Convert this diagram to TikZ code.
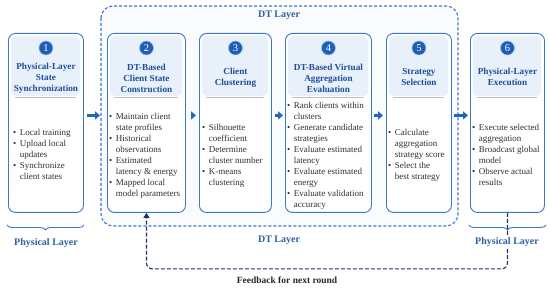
\documentclass[tikz,border=0pt]{standalone}
\usepackage{fontspec}
\setmainfont{Liberation Serif}
\usetikzlibrary{arrows.meta,decorations.pathreplacing}
\definecolor{dtblue}{HTML}{3A78C9}
\definecolor{titleblue}{HTML}{1F4E9A}
\definecolor{headfill}{HTML}{E8F0FA}
\definecolor{circfill}{HTML}{1F5EB8}
\definecolor{navy}{HTML}{1E3263}
\definecolor{arrowblue}{HTML}{1F66C1}
\definecolor{bodytxt}{HTML}{303030}
\newenvironment{bullets}{\begin{tabular}{@{}l@{\hspace{3.5pt}}l@{}}}{\end{tabular}}
\newcommand{\bitem}{\textbullet &}
\tikzset{
  stage/.style={draw=dtblue, line width=0.9pt, rounded corners=7pt, fill=white,
    anchor=north west, minimum height=179pt, inner sep=0pt},
  sepline/.style={draw=black!25, line width=1pt},
  numcirc/.style={circle, fill=circfill, draw=dtblue!50, line width=0.6pt,
    minimum size=14pt, inner sep=0pt, text=white, font=\fontsize{10.5}{10}\selectfont},
  title/.style={align=center, text=titleblue, font=\fontsize{9.2}{11}\selectfont\bfseries},
  items/.style={anchor=west, text=bodytxt, inner sep=0pt,
    font=\fontsize{9}{11}\selectfont},
  flow/.style={draw=arrowblue, line width=2.6pt, -{Triangle[length=5pt,width=8pt]}},
  layerlabel/.style={text=dtblue!80!black, font=\fontsize{10}{11}\selectfont\bfseries},
  feedback/.style={draw=navy, line width=1.1pt, dash pattern=on 4pt off 2pt,
    rounded corners=6pt, -{Triangle[length=5pt,width=6pt]}},
  layerbrace/.style={draw=dtblue, line width=0.9pt, decorate,
    decoration={brace, mirror, amplitude=5pt}}
}
\begin{document}
\begin{tikzpicture}[x=1pt, y=-1pt]
  \useasboundingbox (0,0) rectangle (550,288);
  % DT layer region
  \draw[dtblue, line width=1.1pt, dash pattern=on 3pt off 2pt, fill=dtblue!3,
    rounded corners=12pt] (101,6) rectangle (458,226);
  \node[layerlabel] (dttop) at (279,15) {DT Layer};
  \node[layerlabel] (dtbot) at (279,240) {DT Layer};
  % Stage boxes
  \node[stage, minimum width=75pt] (b1) at (8,33) {};
  \node[stage, minimum width=78pt] (b2) at (107,33) {};
  \node[stage, minimum width=72pt] (b3) at (199,33) {};
  \node[stage, minimum width=86pt] (b4) at (285,33) {};
  \node[stage, minimum width=65pt] (b5) at (386,33) {};
  \node[stage, minimum width=74pt] (b6) at (470,33) {};
  % Header backgrounds
  \fill[headfill, rounded corners=5pt] (11,36) rectangle (80,96);
  \fill[headfill, rounded corners=5pt] (110,36) rectangle (182,96);
  \fill[headfill, rounded corners=5pt] (202,36) rectangle (268,96);
  \fill[headfill, rounded corners=5pt] (288,36) rectangle (368,96);
  \fill[headfill, rounded corners=5pt] (389,36) rectangle (448,96);
  \fill[headfill, rounded corners=5pt] (473,36) rectangle (541,96);
  % Separator lines
  \draw[sepline] (15,98) -- (76,98);
  \draw[sepline] (114,98) -- (178,98);
  \draw[sepline] (206,98) -- (264,98);
  \draw[sepline] (292,98) -- (364,98);
  \draw[sepline] (393,98) -- (444,98);
  \draw[sepline] (477,98) -- (537,98);
  % Numbers
  \node[numcirc] (n1) at (b1.north |- 0,48) {1};
  \node[numcirc] (n2) at (b2.north |- 0,48) {2};
  \node[numcirc] (n3) at (b3.north |- 0,48) {3};
  \node[numcirc] (n4) at (b4.north |- 0,48) {4};
  \node[numcirc] (n5) at (b5.north |- 0,48) {5};
  \node[numcirc] (n6) at (b6.north |- 0,48) {6};
  % Titles
  \node[title] (t1) at (b1.north |- 0,78) {Physical-Layer\\State\\Synchronization};
  \node[title] (t2) at (b2.north |- 0,78) {DT-Based\\Client State\\Construction};
  \node[title] (t3) at (b3.north |- 0,78) {Client\\Clustering};
  \node[title] (t4) at (b4.north |- 0,78) {DT-Based Virtual\\Aggregation\\Evaluation};
  \node[title] (t5) at (b5.north |- 0,77) {Strategy\\Selection};
  \node[title] (t6) at (b6.north |- 0,77) {Physical-Layer\\Execution};
  % Bullet lists
  \node[items] (l1) at (13,155.5) {\begin{bullets}
    \bitem Local training\\
    \bitem Upload local\\ & updates\\
    \bitem Synchronize\\ & client states
  \end{bullets}};
  \node[items] (l2) at (109,155.5) {\begin{bullets}
    \bitem Maintain client\\ & state profiles\\
    \bitem Historical\\ & observations\\
    \bitem Estimated\\ & latency \& energy\\
    \bitem Mapped local\\ & model parameters
  \end{bullets}};
  \node[items] (l3) at (202,155.5) {\begin{bullets}
    \bitem Silhouette\\ & coefficient\\
    \bitem Determine\\ & cluster number\\
    \bitem K-means\\ & clustering
  \end{bullets}};
  \node[items] (l4) at (287,155.5) {\begin{bullets}
    \bitem Rank clients within\\ & clusters\\
    \bitem Generate candidate\\ & strategies\\
    \bitem Evaluate estimated\\ & latency\\
    \bitem Evaluate estimated\\ & energy\\
    \bitem Evaluate validation\\ & accuracy
  \end{bullets}};
  \node[items] (l5) at (388,155.5) {\begin{bullets}
    \bitem Calculate\\ & aggregation\\ & strategy score\\
    \bitem Select the\\ & best strategy
  \end{bullets}};
  \node[items] (l6) at (472,155.5) {\begin{bullets}
    \bitem Execute selected\\ & aggregation\\
    \bitem Broadcast global\\ & model\\
    \bitem Observe actual\\ & results
  \end{bullets}};
  % Flow arrows
  \draw[flow, shorten <=3pt, shorten >=7pt] ([yshift=7.5pt]b1.east) -- ([yshift=7.5pt]b2.west);
  \draw[flow, shorten <=5pt, shorten >=3pt] ([yshift=7.5pt]b2.east) -- ([yshift=7.5pt]b3.west);
  \draw[flow, shorten <=3pt, shorten >=2pt] ([yshift=7.5pt]b3.east) -- ([yshift=7.5pt]b4.west);
  \draw[flow, shorten <=2pt, shorten >=3pt] ([yshift=7.5pt]b4.east) -- ([yshift=7.5pt]b5.west);
  \draw[flow, shorten <=2pt, shorten >=2pt] ([yshift=7.5pt]b5.east) -- ([yshift=7.5pt]b6.west);
  % Physical layer braces
  \draw[layerbrace] (7,225) -- (84,225);
  \draw[layerbrace] (469,225) -- (546,225);
  % Feedback loop
  \draw[feedback] (b6.south) -- ++(0,56) -| (b2.south);
  \node[layerlabel, fill=white, inner sep=1pt] (phl) at (46,243) {Physical Layer};
  \node[layerlabel, fill=white, inner sep=1pt] (phr) at (507,242) {Physical Layer};
  \node[font=\fontsize{9.5}{11}\selectfont\bfseries, text=black!85] (fb) at (287,280) {Feedback for next round};
\end{tikzpicture}
\end{document}
